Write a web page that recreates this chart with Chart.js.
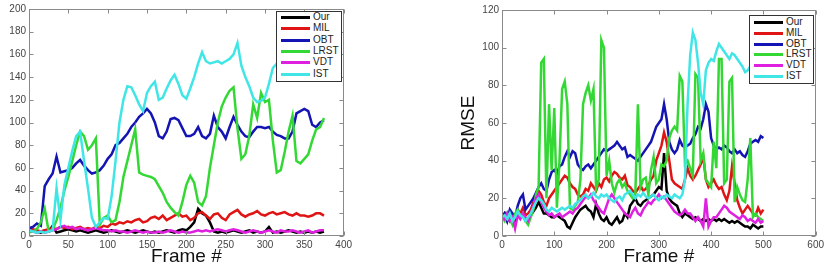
<!DOCTYPE html>
<html lang="en">
<head>
  <meta charset="UTF-8">
  <title>RMSE per frame</title>
  <script src="https://cdn.jsdelivr.net/npm/chart.js"></script>
  <style>
    body {
      margin: 0;
      width: 827px;
      height: 268px;
      overflow: hidden;
      position: relative;
      background: #fff;
      font-family: "Liberation Sans", Arial, sans-serif;
    }
    canvas {
      position: absolute;
      top: 0;
    }
    #leftChart { left: -18px; }
    #rightChart { left: 459px; }
    .legend {
      position: absolute;
      background: #fff;
      border: 1px solid #333;
      box-sizing: border-box;
    }
    #leftLegend { left: 276px; top: 11px; width: 66px; height: 71px; }
    #rightLegend { left: 749px; top: 15px; width: 65px; height: 69px; }
    .legend .row {
      position: absolute;
      left: 0;
      right: 0;
      height: 12px;
      font-size: 10px;
      line-height: 12px;
      color: #222;
      white-space: nowrap;
    }
    .legend .swatch {
      position: absolute;
      top: 5px;
      width: 29px;
      height: 3px;
    }
    .legend .label {
      position: absolute;
      left: 36px;
    }
  </style>
</head>
<body>
<canvas id="leftChart" width="373" height="268"></canvas>
<canvas id="rightChart" width="368" height="268"></canvas>
<div id="leftLegend" class="legend"></div>
<div id="rightLegend" class="legend"></div>

<script>
  const seriesNames = ['Our', 'MIL', 'OBT', 'LRST', 'VDT', 'IST'];
  const seriesColors = ['#000000', '#e01414', '#1414b4', '#34d834', '#e020e0', '#40e6e6'];

  // left plot: frames 0..375
  const leftFrames = [0,5,10,15,20,25,30,35,40,45, 50,55,60,65,70,75,80,85,90,95,
    100,105,110,115,120,125,130,135,140,145, 150,155,160,165,170,175,180,185,190,195,
    200,205,210,215,220,225,230,235,240,245, 250,255,260,265,270,275,280,285,290,295,
    300,305,310,315,320,325,330,335,340,345, 350,355,360,365,370,375];
  const leftOur = [7,5,4,3,5,4,9,3,4,5, 6,5,4,5,4,3,4,5,4,3, 4,5,4,3,4,5,4,3,4,5,
    4,3,4,3,4,5,4,3,5,6, 5,8,12,24,20,18,12,4,3,4, 3,4,5,4,3,4,5,3,4,3,
    4,8,3,4,3,4,5,4,3,4, 3,4,3,4,3,4];
  const leftMIL = [5,6,5,4,5,6,7,6,8,7, 8,6,7,8,6,7,6,8,7,9, 8,11,10,12,11,13,12,14,15,12,
    13,16,17,15,18,14,16,18,20,17, 18,14,16,20,21,18,15,19,20,16, 14,19,21,23,19,17,19,20,22,19,
    18,20,21,19,20,21,19,18,20,18, 18,17,18,20,20,18];
  const leftOBT = [7,8,11,9,44,50,55,70,56,57, 58,60,64,67,62,58,55,56,58,62,
    68,72,80,82,86,90,96,100,105,108, 112,108,100,88,86,92,103,104,102,95,
    88,88,90,96,88,86,90,106,96,92, 86,96,105,98,92,88,87,92,96,96,
    95,96,92,89,88,86,86,92,108,110, 112,110,98,96,100,102];
  const leftLRST = [3,4,6,12,24,4,5,14,25,40, 52,66,80,92,88,76,80,86,10,16,
    18,12,14,30,52,66,80,94,56,54, 53,52,50,44,38,30,25,21,18,30,
    45,53,47,30,27,35,60,80,100,114, 122,128,131,95,68,72,88,116,104,126,
    118,120,84,56,58,74,92,106,66,64, 68,72,84,94,96,104];
  const leftVDT = [5,4,3,4,3,4,5,6,8,9, 7,8,6,7,6,5,6,7,6,5, 5,4,5,4,4,3,4,5,4,3,
    4,3,3,4,3,4,5,4,3,4, 3,3,4,5,4,5,4,5,6,5, 4,5,6,5,4,3,4,5,4,3,
    4,5,4,3,5,4,4,5,4,3, 4,5,3,4,5,5];
  const leftIST = [5,4,3,4,3,4,5,42,14,45, 60,75,88,92,66,42,16,8,12,16,
    15,35,66,100,120,132,131,124,116,110, 126,132,136,120,122,130,137,142,134,124,
    121,130,140,152,162,154,152,153,154,152, 154,156,160,170,150,140,132,122,118,119,
    122,134,148,152,156,158,160,158,162,160, 158,162,160,158,160,158];

  // right plot: frames 0..500
  const rightFrames = [0,5,10,15,20,25,30,35,40,45, 50,55,60,65,70,75,80,85,90,95,
    100,105,110,115,120,125,130,135,140,145, 150,155,160,165,170,175,180,185,190,195,
    200,205,210,215,220,225,230,235,240,245, 250,255,260,265,270,275,280,285,290,295,
    300,305,310,315,320,325,330,335,340,345, 350,355,360,365,370,375,380,385,390,395,
    400,405,410,415,420,425,430,435,440,445, 450,455,460,465,470,475,480,485,490,495, 500];
  const rightOur = [10,12,8,11,9,8,12,10,11,8, 9,11,13,15,18,15,12,12,11,10,
    10,11,10,9,8,5,4,7,10,12, 14,15,16,14,13,10,17,12,9,8,
    10,7,6,8,10,7,8,12,10,16, 18,20,17,16,18,19,20,21,22,24,
    26,25,44,24,20,18,17,16,12,10, 12,11,10,9,10,9,8,9,8,9,
    8,9,8,9,8,9,8,7,8,7, 8,7,6,5,5,4,6,5,4,5, 5];
  const rightMIL = [10,12,9,13,11,10,14,12,15,11, 12,14,18,20,24,22,18,16,20,22,
    24,26,28,30,32,31,28,26,25,22, 21,22,25,24,28,26,24,28,26,30,
    31,29,32,34,33,31,30,32,27,26, 24,23,25,27,24,25,27,30,32,40,
    44,48,55,50,40,30,28,27,26,25, 30,36,32,30,32,35,38,42,30,26,
    28,30,27,25,26,22,19,24,37,28, 19,15,12,14,16,14,12,11,15,12, 14];
  const rightOBT = [10,12,8,14,12,10,16,20,22,14, 16,18,20,23,26,28,25,24,30,34,
    35,33,37,38,42,45,42,45,44,38, 36,35,37,38,36,38,40,42,44,46,
    45,46,47,48,50,48,46,47,42,43, 42,41,40,42,44,46,48,50,54,58,
    60,62,70,62,50,46,44,46,51,48, 47,48,49,52,54,58,57,62,70,66,
    52,48,46,47,46,48,47,45,44,46, 44,45,43,42,45,49,50,51,50,53, 52];
  const rightLRST = [10,8,12,9,6,12,14,10,12,8, 6,10,14,22,26,92,94,20,70,35,
    68,15,40,78,82,70,15,14,16,18, 30,70,76,80,72,78,25,30,104,100,
    32,40,28,23,28,30,26,28,24,22, 20,22,70,26,30,31,22,35,42,28,
    30,38,37,40,52,56,58,56,85,82, 38,40,36,32,86,84,40,44,30,28,
    26,50,36,94,94,28,30,82,84,18, 26,22,19,18,30,52,10,12,10,9, 8];
  const rightVDT = [11,9,12,8,10,4,11,9,12,10, 8,12,16,20,22,18,15,13,11,12,
    10,11,12,10,11,12,13,12,14,15, 17,19,21,20,22,19,17,15,13,12,
    16,20,22,20,18,16,14,12,11,10, 13,15,12,11,14,16,18,17,19,20,
    22,20,21,19,17,15,13,12,11,12, 14,12,12,10,8,10,8,5,20,5,
    8,10,10,12,14,16,15,13,12,11, 10,9,11,10,8,9,8,7,9,7, 8];
  const rightIST = [10,11,9,12,8,10,13,11,10,8, 10,12,15,18,20,19,17,14,13,15,
    14,13,14,15,14,15,16,15,17,18, 19,21,22,20,21,23,21,20,22,21,
    22,20,19,18,20,21,19,22,23,24, 22,20,22,21,23,21,20,21,22,20,
    19,21,20,22,21,20,22,21,20,22, 30,70,96,108,104,92,76,70,88,92,
    94,93,98,102,100,98,96,94,97,96, 94,92,90,87,88,90,88,86,88,90, 88];

  Chart.defaults.font.family = "'Liberation Sans', Arial, sans-serif";
  Chart.defaults.color = '#444';

  // MATLAB style axes box with inward ticks on all four sides
  const boxPlugin = {
    id: 'boxPlugin',
    afterDatasetsDraw(chart) {
      const {ctx, chartArea, scales} = chart;
      const l = Math.round(chartArea.left) + 0.5;
      const r = Math.round(chartArea.right) - 0.5;
      const t = Math.round(chartArea.top) + 0.5;
      const b = Math.round(chartArea.bottom) - 0.5;
      ctx.save();
      ctx.strokeStyle = '#8a8a8a';
      ctx.lineWidth = 1;
      ctx.strokeRect(l, t, r - l, b - t);
      ctx.beginPath();
      scales.x.ticks.forEach(tk => {
        const px = Math.round(scales.x.getPixelForValue(tk.value)) + 0.5;
        ctx.moveTo(px, b); ctx.lineTo(px, b - 4);
        ctx.moveTo(px, t); ctx.lineTo(px, t + 4);
      });
      scales.y.ticks.forEach(tk => {
        const py = Math.round(scales.y.getPixelForValue(tk.value)) + 0.5;
        ctx.moveTo(l, py); ctx.lineTo(l + 4, py);
        ctx.moveTo(r, py); ctx.lineTo(r - 4, py);
      });
      ctx.stroke();
      ctx.restore();
    }
  };

  function makeChart(id, frames, series, xMax, xStep, yMax, padTop, padRight, yWidth) {
    const datasets = series.map((vals, i) => ({
      label: seriesNames[i],
      data: frames.map((f, k) => ({x: f, y: vals[k]})),
      borderColor: seriesColors[i],
      borderWidth: 2.5,
      pointRadius: 0,
      tension: 0,
      fill: false,
      order: series.length - i
    }));
    return new Chart(document.getElementById(id), {
      type: 'line',
      data: {datasets},
      plugins: [boxPlugin],
      options: {
        responsive: false,
        animation: false,
        layout: {padding: {top: padTop, right: padRight, left: 0, bottom: 0}},
        plugins: {legend: {display: false}, tooltip: {enabled: false}},
        scales: {
          x: {
            type: 'linear',
            min: 0,
            max: xMax,
            grid: {display: false, drawTicks: false},
            border: {display: false},
            ticks: {stepSize: xStep, padding: 3, font: {size: 10}},
            title: {display: true, text: 'Frame #', color: '#111',
              font: {size: 19, lineHeight: 1}, padding: {top: 0, bottom: 2}},
            afterFit: s => { s.height = 32; }
          },
          y: {
            min: 0,
            max: yMax,
            grid: {display: false, drawTicks: false},
            border: {display: false},
            ticks: {stepSize: 20, padding: 3, font: {size: 10}},
            title: {display: true, text: 'RMSE', color: '#111',
              font: {size: 19, lineHeight: 1}, padding: {top: 0, bottom: 0}},
            afterFit: s => { s.width = yWidth; }
          }
        }
      }
    });
  }

  makeChart('leftChart', leftFrames,
    [leftOur, leftMIL, leftOBT, leftLRST, leftVDT, leftIST], 400, 50, 200, 6, 8, 47);
  makeChart('rightChart', rightFrames,
    [rightOur, rightMIL, rightOBT, rightLRST, rightVDT, rightIST], 600, 100, 120, 10, 8, 43);

  function buildLegend(id, firstRow, rowStep) {
    const box = document.getElementById(id);
    seriesNames.forEach((name, i) => {
      const row = document.createElement('div');
      row.className = 'row';
      row.style.top = (firstRow + i * rowStep - 6) + 'px';
      row.innerHTML = `<span class="swatch" style="left:4px;background:${seriesColors[i]}"></span>` +
        `<span class="label">${name}</span>`;
      box.appendChild(row);
    });
  }
  buildLegend('leftLegend', 5, 11.3);
  buildLegend('rightLegend', 6, 10.8);
</script>
</body>
</html>
